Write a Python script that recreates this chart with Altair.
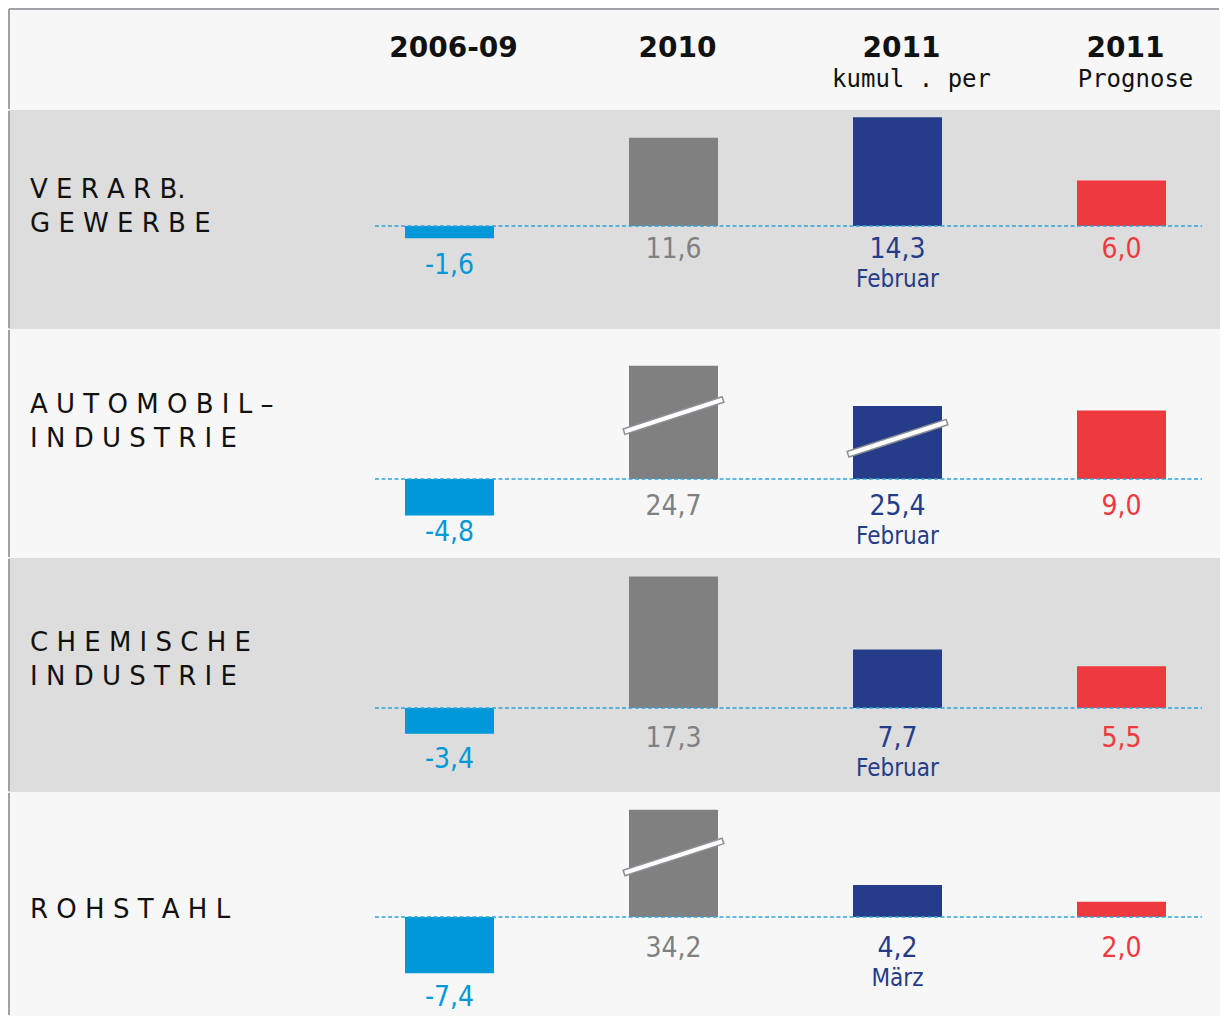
import altair as alt
import pandas as pd

# ---------------- data ----------------
periods = ["2006-09", "2010", "2011 kumul. per", "2011 Prognose"]
header_years = ["2006-09", "2010", "2011", "2011"]
header_notes = ["", "", "kumul . per", "Prognose"]
sectors = [
    "V E R A R B.\nG E W E R B E",
    "A U T O M O B I L –\nI N D U S T R I E",
    "C H E M I S C H E\nI N D U S T R I E",
    "R O H S T A H L",
]
growth_2006_09 = [-1.6, -4.8, -3.4, -7.4]
growth_2010 = [11.6, 24.7, 17.3, 34.2]
growth_2011_cum = [14.3, 25.4, 7.7, 4.2]
growth_2011_forecast = [6.0, 9.0, 5.5, 2.0]
cum_months = ["Februar", "Februar", "Februar", "März"]
# bars drawn shortened with an axis break: (sector index, period index) -> height shown
broken_bars = {(1, 1): 14.9, (1, 2): 9.6, (3, 1): 14.1}

# ---------------- styles / layout ----------------
period_colors = ["#0098d8", "#808080", "#253c88", "#ee3a3f"]
row_fill = ["#dddddd", "#f7f7f7", "#dddddd", "#f7f7f7"]
W = 1212
HEADER_H = 102
row_heights = [219, 229, 234, 224]
row_base = [116, 150, 150, 125]      # baseline distance from row top
label_top = [88, 84, 93, 126]        # first text line baseline from row top
pos_dy = [24, 28, 31, 32]            # value label offset below baseline (positive bars)
neg_dy = [28, 18, 26, 25]            # value label offset below bar end (negative bars)
PX_PER_UNIT = 7.6
BREAK_FRAC = 0.56
VAL_FONT = "DejaVu Sans Condensed, DejaVu Sans"
BORDER = "#9ea2a7"

xscale = alt.Scale(domain=periods, range=[329.5, 1225.5], paddingInner=0, paddingOuter=0)
color_scale = alt.Scale(domain=periods, range=period_colors)


def fmt(v):
    return f"{v:.1f}".replace(".", ",")


series = [growth_2006_09, growth_2010, growth_2011_cum, growth_2011_forecast]


def row_chart(i):
    H = row_heights[i]
    B = row_base[i]
    recs = []
    for j, p in enumerate(periods):
        v = series[j][i]
        shown = broken_bars.get((i, j), v)
        recs.append(
            dict(
                period=p,
                value=v,
                shown=shown,
                anchor=min(shown, 0),
                label=fmt(v),
                month=cum_months[i] if j == 2 else "",
                broken=(i, j) in broken_bars,
                break_y=shown * BREAK_FRAC,
            )
        )
    df = pd.DataFrame(recs)
    yscale = alt.Scale(domain=[-(H - B) / PX_PER_UNIT, B / PX_PER_UNIT], nice=False, zero=False)
    x = alt.X("period:N", scale=xscale, axis=None)
    color = alt.Color("period:N", scale=color_scale, legend=None)
    base = alt.Chart(df)

    bars = base.mark_bar(size=89).encode(
        x=x,
        y=alt.Y("shown:Q", scale=yscale, axis=None),
        y2=alt.datum(0),
        color=color,
    )
    zero_line = (
        alt.Chart(pd.DataFrame({"zero": [0]}))
        .mark_rule(color="#2fa4dc", strokeWidth=1.5, strokeDash=[4, 2.5])
        .encode(y=alt.Y("zero:Q", scale=yscale, axis=None), x=alt.value(367), x2=alt.value(1194))
    )
    pos_labels = base.transform_filter("datum.value >= 0").mark_text(
        font=VAL_FONT, fontSize=28, dy=pos_dy[i], baseline="middle", align="center"
    ).encode(x=x, y=alt.Y("anchor:Q", scale=yscale, axis=None), text="label:N", color=color)
    neg_labels = base.transform_filter("datum.value < 0").mark_text(
        font=VAL_FONT, fontSize=28, dy=neg_dy[i], baseline="middle", align="center"
    ).encode(x=x, y=alt.Y("anchor:Q", scale=yscale, axis=None), text="label:N", color=color)
    month_labels = base.transform_filter("datum.month != ''").mark_text(
        font=VAL_FONT, fontSize=24, dy=pos_dy[i] + 30, baseline="middle", align="center"
    ).encode(x=x, y=alt.Y("anchor:Q", scale=yscale, axis=None), text="month:N", color=color)
    breaks = base.transform_filter("datum.broken").mark_point(
        shape="M -1 -0.055 L 1 -0.055 L 1 0.055 L -1 0.055 Z",
        size=10816,
        angle=342,
        filled=True,
        fill="white",
        stroke="#8c8f94",
        strokeWidth=1.5,
        opacity=1,
    ).encode(x=x, y=alt.Y("break_y:Q", scale=yscale, axis=None))
    name = (
        alt.Chart(pd.DataFrame({"name": [sectors[i]]}))
        .mark_text(
            align="left",
            baseline="alphabetic",
            font="DejaVu Sans",
            fontSize=26,
            lineBreak="\n",
            lineHeight=34,
            color="#111111",
        )
        .encode(x=alt.value(22), y=alt.value(label_top[i]), text="name:N")
    )
    border = (
        alt.Chart(pd.DataFrame({"b": [0]}))
        .mark_rule(color=BORDER, strokeWidth=2)
        .encode(x=alt.value(1), y=alt.value(1), y2=alt.value(H - 1))
    )
    return alt.layer(bars, breaks, zero_line, pos_labels, neg_labels, month_labels, name, border).properties(
        width=W, height=H, view=alt.ViewBackground(fill=row_fill[i], stroke=None)
    )


hdf = pd.DataFrame({"period": periods, "year": header_years, "note": header_notes})
hx = alt.X("period:N", scale=xscale, axis=None)
hbase = alt.Chart(hdf)
years = hbase.mark_text(
    font="DejaVu Sans", fontSize=28, fontWeight="bold", color="#111111", dx=4, baseline="alphabetic"
).encode(x=hx, y=alt.value(49), text="year:N")
notes = hbase.mark_text(
    font="DejaVu Sans Mono", fontSize=24, color="#111111", dx=14, baseline="alphabetic"
).encode(x=hx, y=alt.value(79), text="note:N")
hborder_top = (
    alt.Chart(pd.DataFrame({"b": [0]}))
    .mark_rule(color=BORDER, strokeWidth=2)
    .encode(x=alt.value(1), x2=alt.value(W - 1), y=alt.value(1))
)
hborder_left = (
    alt.Chart(pd.DataFrame({"b": [0]}))
    .mark_rule(color=BORDER, strokeWidth=2)
    .encode(x=alt.value(1), y=alt.value(1), y2=alt.value(HEADER_H - 1))
)
header = alt.layer(years, notes, hborder_top, hborder_left).properties(
    width=W, height=HEADER_H, view=alt.ViewBackground(fill="#f7f7f7", stroke=None)
)

chart = (
    alt.vconcat(header, *[row_chart(i) for i in range(4)], spacing=0, bounds="flush")
    .properties(padding=0, background="#ffffff")
    .configure_view(stroke=None)
)

chart.save("out.html", embed_options={"renderer": "svg", "actions": False})
